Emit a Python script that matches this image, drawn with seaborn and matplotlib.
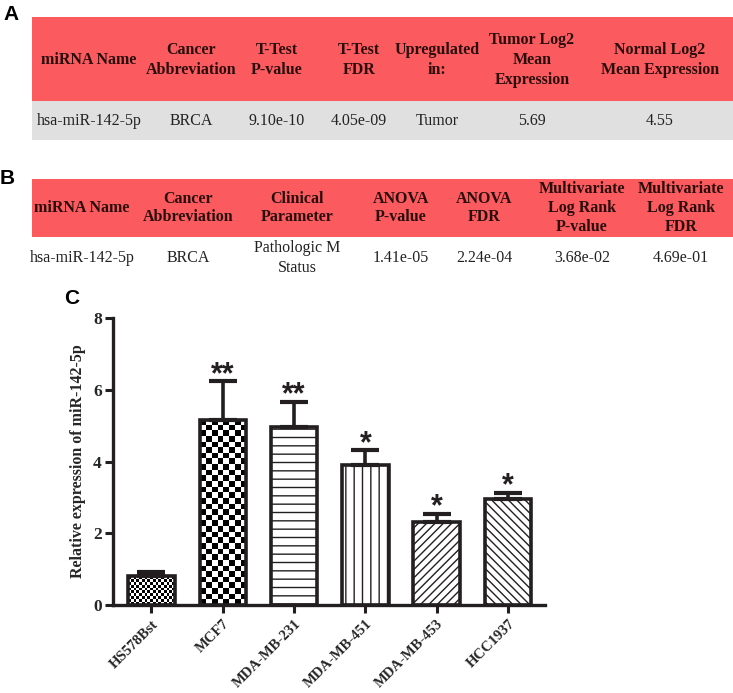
import matplotlib
matplotlib.use("Agg")
import matplotlib.pyplot as plt
import numpy as np
import seaborn as sns
from matplotlib.patches import Rectangle

# ---------------- 数据 ----------------
table_a_header = ["miRNA Name", "Cancer\nAbbreviation", "T-Test\nP-value", "T-Test\nFDR",
                  "Upregulated\nin:", "Tumor Log2\nMean\nExpression", "Normal Log2\nMean Expression"]
table_a_row = ["hsa-miR-142-5p", "BRCA", "9.10e-10", "4.05e-09", "Tumor", "5.69", "4.55"]

table_b_header = ["miRNA Name", "Cancer\nAbbreviation", "Clinical\nParameter", "ANOVA\nP-value",
                  "ANOVA\nFDR", "Multivariate\nLog Rank\nP-value", "Multivariate\nLog Rank\nFDR"]
table_b_row = ["hsa-miR-142-5p", "BRCA", "Pathologic M\nStatus", "1.41e-05", "2.24e-04",
               "3.68e-02", "4.69e-01"]

cell_lines = ["HS578Bst", "MCF7", "MDA-MB-231", "MDA-MB-451", "MDA-MB-453", "HCC1937"]
expression = [0.80, 5.17, 4.97, 3.91, 2.31, 2.96]
sem = [0.12, 1.06, 0.69, 0.40, 0.22, 0.17]
stars = ["", "**", "**", "*", "*", "*"]

# ---------------- 样式 ----------------
W, H = 733, 693
RED = "#fb5a5e"
GRAY = "#e0e0e0"
INK = "#231f20"
HEAD_INK = "#2a0e0e"

sns.set_style("ticks")
plt.rcParams["font.family"] = ["Liberation Serif", "DejaVu Serif"]
plt.rcParams["hatch.linewidth"] = 1.0
plt.rcParams["hatch.color"] = INK

fig = plt.figure(figsize=(W / 100, H / 100), dpi=100)

# ---------------- 表格 A / B (像素坐标覆盖层) ----------------
ov = fig.add_axes([0, 0, 1, 1])
ov.set_xlim(0, W)
ov.set_ylim(H, 0)
ov.axis("off")

col_a = [89, 191, 277, 359, 437, 532, 660]
col_b = [82, 188, 297, 401, 484, 582, 681]

ov.add_patch(Rectangle((32, 17), W - 32, 84, color=RED, lw=0))
ov.add_patch(Rectangle((32, 101), W - 32, 39, color=GRAY, lw=0))
for x, t in zip(col_a, table_a_header):
    ov.text(x, 60, t, ha="center", va="center", fontsize=11.5, fontweight="bold",
            color=HEAD_INK, linespacing=1.3)
for x, t in zip(col_a, table_a_row):
    ov.text(x, 121, t, ha="center", va="center", fontsize=11.5, color="#222222")

ov.add_patch(Rectangle((32, 179), W - 32, 58, color=RED, lw=0))
for x, t in zip(col_b, table_b_header):
    ov.text(x, 208, t, ha="center", va="center", fontsize=11.5, fontweight="bold",
            color=HEAD_INK, linespacing=1.22)
for x, t in zip(col_b, table_b_row):
    ov.text(x, 258, t, ha="center", va="center", fontsize=11.5, color="#222222",
            linespacing=1.3)

for lab, (x, y) in zip("ABC", [(3, 5), (0, 169), (64, 289)]):
    ov.text(x, y, lab, ha="left", va="top", fontsize=15, fontweight="bold",
            family="Liberation Sans", color="black")

# ---------------- 柱状图 C ----------------
ax = fig.add_axes([113 / W, 1 - 605 / H, (545 - 113) / W, (605 - 318) / H])
sns.barplot(x=cell_lines, y=expression, ax=ax, color="white", edgecolor=INK,
            linewidth=2.6, width=0.65, errorbar=None, saturation=1)
ax.set_xlim(-0.54, 5.52)
ax.set_ylim(0, 8)
ax.set_yticks([0, 2, 4, 6, 8])

hatches = [None, None, "--", "||", "////", "\\\\\\\\"]
checker_px = [2.8, 5.6]
bars = ax.patches[:len(cell_lines)]
for i, bar in enumerate(bars):
    bar.set_facecolor("white")
    if hatches[i]:
        bar.set_hatch(hatches[i])
    else:
        # 棋盘格填充, 裁剪到柱子内部
        bar.set_facecolor("none")
        x0, y0 = bar.get_x(), bar.get_y()
        x1, y1 = x0 + bar.get_width(), y0 + bar.get_height()
        p0 = ax.transData.transform((x0, y0))
        p1 = ax.transData.transform((x1, y1))
        nx = max(1, int(round(abs(p1[0] - p0[0]) / checker_px[i])))
        ny = max(1, int(round(abs(p1[1] - p0[1]) / checker_px[i])))
        board = (np.add.outer(np.arange(ny), np.arange(nx)) % 2).astype(float)
        im = ax.imshow(board, extent=(x0, x1, y0, y1), cmap="gray", vmin=0, vmax=1,
                       interpolation="nearest", aspect="auto", zorder=0.5)
        im.set_clip_path(bar)
ax.set_xlim(-0.54, 5.52)
ax.set_ylim(0, 8)

xs = np.arange(len(cell_lines))
ax.errorbar(xs, expression, yerr=[np.zeros(len(sem)), sem], fmt="none", ecolor=INK,
            elinewidth=2.6, capsize=10, capthick=3, zorder=3)
for x, v, e, s in zip(xs, expression, sem, stars):
    if s:
        ax.annotate(s, (x, v + e), xytext=(0, -1), textcoords="offset points",
                    ha="center", va="baseline", fontsize=22, fontweight="bold",
                    family="Liberation Sans", color=INK)

sns.despine(ax=ax)
for sp in ["left", "bottom"]:
    ax.spines[sp].set_linewidth(2.4)
    ax.spines[sp].set_color(INK)
ax.tick_params(axis="both", width=2.2, length=6, color=INK, direction="out")
ax.tick_params(axis="y", labelsize=12.5, pad=2)
ax.tick_params(axis="x", labelsize=10.5, pad=3)
for t in ax.get_yticklabels():
    t.set_fontweight("bold")
for t in ax.get_xticklabels():
    t.set_fontweight("bold")
    t.set_rotation(45)
    t.set_ha("right")
    t.set_rotation_mode("anchor")
ax.set_ylabel("Relative expression of miR-142-5p", fontsize=11.5, fontweight="bold",
              labelpad=5)
ax.set_xlabel("")
ax.patch.set_alpha(0)

fig.savefig("out.png", dpi=100)
